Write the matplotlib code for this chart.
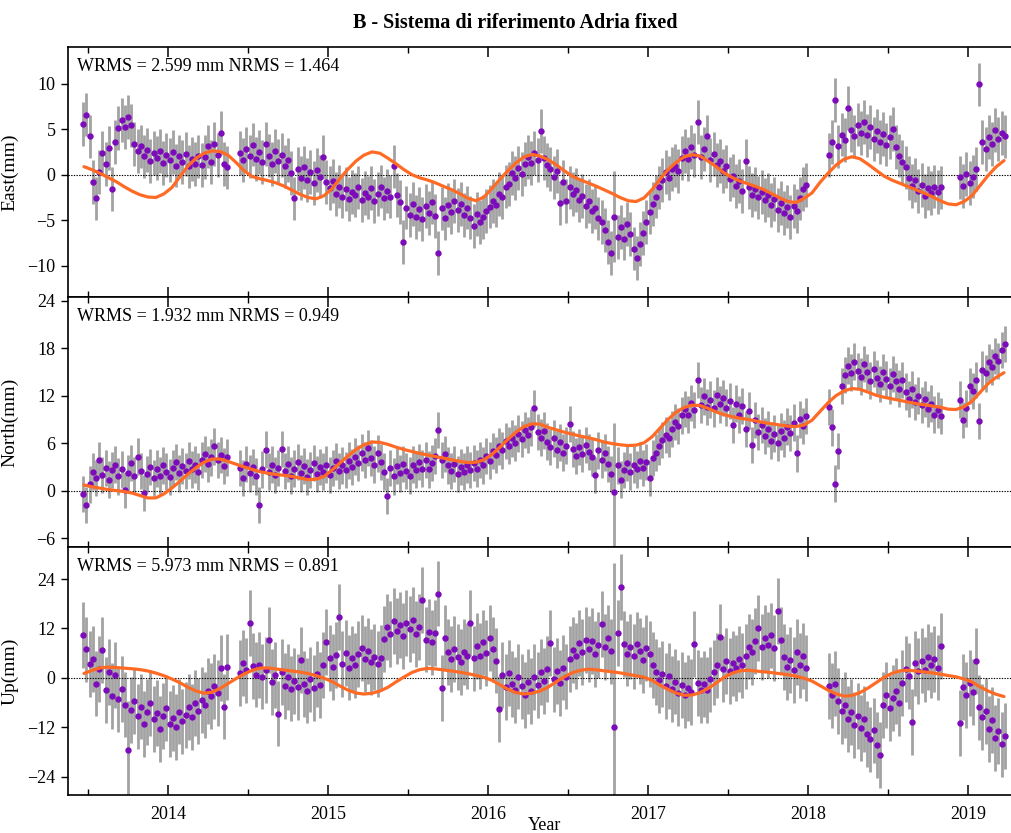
import numpy as np
import matplotlib.pyplot as plt

plt.rcParams['font.family'] = ['Liberation Serif', 'DejaVu Serif']

# weekly solutions in four continuous stretches (decimal year of first epoch)
seg_start = [2013.47, 2014.45, 2018.13, 2018.95]
seg_step = 0.02

east_a = [5.6, 6.6, 4.2, -0.8, -2.6, 0.3, 2.4, 1.2, 2.9, -1.6,
          3.6, 5.1, 6.0, 5.2, 6.3, 5.4, 3.4, 2.6, 3.1, 2.0,
          2.7, 1.5, 2.4, 1.8, 2.6, 1.3, 2.2, 1.6, 2.5, 1.0,
          2.0, 1.4, 2.3, 0.9, 1.7, 1.2, 2.0, 1.1, 1.9, 3.1,
          1.4, 3.4, 2.2, 4.6, 1.2, 0.8]
east_b = [2.4, 1.6, 2.8, 2.0, 3.3, 1.7, 2.5, 1.4, 3.4, 2.1,
          1.2, 2.6, 1.5, 2.2, 0.9, 1.6, 0.2, -2.6, 0.6, -0.4,
          0.8, -0.6, 0.3, -0.9, 0.5, -0.2, 1.9, -0.8, -1.5, -0.7,
          -2.1, -1.3, -2.4, -1.6, -2.7, -1.9, -2.2, -1.4, -2.8, -2.0,
          -2.5, -1.5, -2.9, -2.1, -1.3, -2.6, -1.8, -2.4, 0.9, -2.2,
          -3.0, -7.4, -3.6, -4.4, -3.2, -4.6, -3.8, -4.9, -3.4, -4.2,
          -3.0, -4.5, -8.6, -3.7, -4.8, -3.3, -4.1, -2.9, -3.9, -3.2,
          -4.4, -3.6, -4.7, -5.6, -4.3, -5.2, -4.6, -4.0, -3.5, -2.9,
          -3.3, -2.1, -2.5, -1.3, -1.0, 0.2, -0.4, 0.7, 0.1, 1.2,
          1.9, 1.3, 2.4, 1.6, 4.8, 1.8, 1.1, 0.6, -0.3, 0.4,
          -3.1, -0.8, -2.9, -1.4, -2.1, -1.7, -2.8, -2.3, -3.4, -2.9,
          -4.0, -3.6, -4.8, -5.2, -6.1, -7.4, -8.6, -4.6, -6.8, -5.7,
          -7.0, -5.4, -6.5, -8.1, -9.1, -7.6, -6.4, -5.2, -4.1, -3.2,
          -2.4, -1.4, -0.6, 0.3, -0.4, 0.6, 1.0, 0.4, 1.8, 2.6,
          1.7, 3.0, 2.2, 5.8, 1.9, 2.8, 4.2, 1.6, 2.3, 1.1,
          1.5, 0.4, 0.9, -0.5, -0.1, -1.2, -0.7, -1.8, 1.5, -1.4,
          -2.2, -1.6, -2.5, -1.9, -2.8, -2.2, -3.3, -2.7, -3.9, -3.1,
          -4.2, -3.5, -4.6, -3.4, -4.0, -2.6, -1.6, -1.1]
east_d = [2.2, 3.6, 8.2, 3.1, 4.4, 3.8, 7.3, 4.9, 4.2, 5.5,
          4.6, 5.8, 4.3, 5.2, 3.9, 4.8, 3.6, 4.5, 3.3, 4.1,
          5.0, 3.0, 2.1, 1.4, 0.8, -0.4, -1.2, -0.6, -1.8, -1.1,
          -2.3, -1.5, -2.0, -1.3, -1.9, -1.4]
east_e = [-0.3, -1.2, 0.1, -0.9, -0.2, 0.6, 9.9, 3.6, 2.8, 4.1,
          3.4, 4.9, 3.9, 4.6, 4.2]

north_a = [-0.4, -1.8, 0.8, 2.4, 1.6, 3.9, 2.0, 2.9, 1.4, 2.6,
           3.3, 1.8, 2.7, 0.1, 2.2, 3.5, 1.9, 4.3, 2.5, -0.3,
           2.1, 3.0, 1.6, 2.8, 1.9, 3.2, 2.4, 1.7, 2.9, 3.6,
           2.2, 3.1, 2.5, 3.8, 2.7, 3.3, 2.4, 3.9, 4.6, 3.4,
           4.2, 5.6, 3.9, 4.5, 3.1, 4.2]
north_b = [2.9, 1.6, 3.4, 2.2, 3.0, 1.8, -1.8, 2.7, 5.2, 2.4,
           3.3, 2.0, 2.9, 5.3, 2.5, 3.4, 1.9, 2.8, 3.6, 2.2,
           3.1, 1.7, 2.6, 3.5, 2.1, 3.0, 2.4, 3.3, 2.0, 2.9,
           3.7, 2.5, 3.2, 2.6, 3.8, 3.0, 4.3, 3.5, 4.8, 3.9,
           5.4, 4.1, 3.3, 4.7, 3.6, 2.4, -0.7, 2.9, 1.8, 3.1,
           2.2, 3.4, 2.5, 1.9, 3.3, 2.6, 3.6, 2.8, 3.9, 2.7,
           3.5, 4.4, 7.7, 3.9, 4.6, 3.2, 2.5, 3.4, 2.1, 3.0,
           2.4, 3.3, 2.6, 3.5, 2.8, 3.9, 3.2, 4.4, 3.8, 5.0,
           4.5, 5.6, 5.1, 6.3, 5.7, 6.6, 6.0, 7.2, 6.5, 7.7,
           7.0, 8.0, 10.4, 7.4, 6.7, 7.6, 6.2, 5.5, 6.6, 5.2,
           6.1, 4.8, 5.7, 8.4, 5.3, 4.4, 5.5, 4.6, 5.8, 4.9,
           4.2, 2.0, 5.1, 3.9, 4.8, 3.4, 2.1, -0.1, 3.2, 1.4,
           2.6, 3.5, 2.4, 3.3, 2.7, 3.8, 2.9, 3.6, 1.6, 4.1,
           4.8, 5.6, 6.4, 7.0, 6.6, 7.8, 8.7, 8.2, 9.5, 10.3,
           9.6, 11.1, 10.2, 14.0, 10.8, 11.9, 10.6, 11.5, 10.4, 12.1,
           10.9, 11.7, 10.5, 11.3, 8.3, 11.0, 9.6, 10.7, 7.8, 10.1,
           5.8, 8.9, 7.4, 8.3, 6.9, 7.8, 6.3, 7.2, 6.0, 7.5,
           6.6, 8.1, 7.3, 8.6, 4.7, 9.0, 8.2, 9.4]
north_d = [10.6, 8.0, 0.9, 5.0, 13.2, 14.6, 15.8, 14.9, 16.3, 15.1,
           14.4, 16.0, 15.0, 13.9, 15.4, 14.2, 13.5, 15.0, 14.1, 13.2,
           14.7, 13.8, 12.9, 14.0, 12.5, 11.6, 12.8, 11.2, 12.0, 10.8,
           11.6, 10.3, 11.0, 9.6, 10.2, 9.4]
north_e = [11.5, 8.9, 10.4, 13.2, 12.6, 14.0, 8.8, 15.3, 14.8, 16.2,
           15.6, 17.0, 16.4, 17.8, 18.5]

up_a = [10.5, 6.9, 3.4, 4.6, -1.4, 2.1, 6.8, -3.0, 1.5, -4.4,
        0.7, -5.2, -2.8, -6.5, -17.6, -7.8, -5.6, -9.4, -7.0, -11.2,
        -8.3, -6.1, -10.1, -8.6, -12.4, -9.3, -7.4, -11.3, -9.8, -12.0,
        -8.2, -10.6, -9.0, -7.1, -9.5, -6.2, -8.0, -5.4, -6.6, -3.2,
        -4.5, -2.1, -3.6, 2.3, -7.0, 2.7]
up_b = [1.2, 3.6, 1.8, 13.4, 2.9, 0.8, 3.2, 0.3, 1.9, 9.2,
        -1.1, 0.6, -8.7, 1.4, -1.9, 0.2, -2.6, -0.7, -2.2, 4.3,
        -1.5, -3.1, -0.4, -2.4, 0.9, -1.8, 3.1, 8.8, 4.9, 2.7,
        5.6, 14.8, 3.4, 6.1, 2.5, 4.7, 3.0, 5.8, 7.2, 4.6,
        6.5, 3.8, 5.1, 3.3, 4.8, 9.5, 12.3, 10.6, 13.8, 11.4,
        12.9, 10.2, 13.3, 11.8, 14.1, 10.7, 12.4, 19.0, 9.3, 11.2,
        8.6, 10.9, 20.5, -2.5, 9.8, 6.3, 4.6, 7.1, 5.0, 3.8,
        6.2, 5.3, 13.4, 4.7, 7.8, 5.4, 8.6, 6.0, 9.7, 6.9,
        4.2, -7.5, 0.6, -2.3, 1.2, -1.6, -3.0, 0.3, -2.1, -4.1,
        -0.9, -3.3, 0.1, -1.7, 1.4, -0.8, 2.2, 8.4, -0.4, 1.6,
        -1.3, 2.5, 0.3, 4.6, 6.8, 5.3, 8.5, 6.2, 9.1, 7.0,
        8.9, 5.7, 8.0, 13.0, 7.4, 9.6, 6.4, -12.0, 10.8, 22.1,
        8.3, 5.9, 7.6, 5.2, 8.1, 6.5, 4.4, 7.3, 5.8, 3.1,
        1.5, -0.6, 1.0, -1.9, 0.4, -2.7, -0.9, -3.6, -1.8, -4.2,
        -2.4, -3.4, 8.2, -1.2, -3.0, -1.5, -2.9, -0.4, 1.3, 3.0,
        10.0, 2.1, 4.0, 1.7, 3.5, 2.4, 4.6, 3.0, 5.2, 7.6,
        6.3, 8.9, 12.2, 7.5, 9.6, 8.0, 10.3, 7.2, 16.3, 9.1,
        5.0, 2.6, 4.3, 1.9, 6.2, 3.0, 5.3, 2.4]
up_d = [-2.0, -4.3, -1.4, -5.6, -8.0, -6.7, -10.1, -8.4, -11.5, -9.2,
        -12.3, -10.0, -13.6, -15.0, -12.8, -16.4, -18.8, -6.6, -4.1, -7.3,
        -5.0, -3.2, -6.2, -1.3, 2.2, 0.4, -10.7, 3.5, 1.6, 4.2,
        2.0, 5.0, 3.1, 4.6, 2.5, 7.7]
up_e = [-11.0, -2.2, -4.1, -1.3, -3.5, 4.0, -7.2, -9.6, -8.1, -12.4,
        -10.3, -14.6, -13.0, -16.2, -14.1]

# formal errors (mm); a few epochs carry much larger ones
east_sig, north_sig, up_sig = 2.4, 2.3, 8.0
big_err_epoch = [2013.75, 2016.79]
big_err_east = [2.4, 5.0]
big_err_north = [2.3, 8.6]
big_err_up = [12.0, 40.0]

# fitted model (trend + seasonal), sampled every 0.05 yr
model_start = 2013.475
model_step = 0.05
east_model = [0.88, 0.55, 0.15, -0.3, -0.75, -1.3, -1.8, -2.2, -2.45, -2.5, -2.1,
              -1.4, -0.2, 0.95, 1.8, 2.35, 2.6, 2.55, 2.15, 1.35, 0.45,
              -0.2, -0.45, -0.65, -0.9, -1.25, -1.7, -2.15, -2.5, -2.65, -2.3,
              -1.55, -0.4, 0.6, 1.5, 2.15, 2.5, 2.35, 1.8, 1.2, 0.55,
              0.0, -0.35, -0.6, -0.92, -1.3, -1.65, -2.1, -2.6, -2.85, -2.45,
              -1.5, -0.5, 0.45, 1.3, 1.95, 2.22, 2.05, 1.65, 1.1, 0.45,
              -0.15, -0.55, -0.9, -1.25, -1.65, -2.05, -2.5, -2.85, -2.95, -2.55,
              -1.65, -0.5, 0.55, 1.35, 1.95, 2.2, 2.05, 1.5, 0.9, 0.2,
              -0.3, -0.7, -1.0, -1.3, -1.65, -2.1, -2.55, -2.95, -3.05, -2.6,
              -2.0, -0.85, 0.15, 1.05, 1.7, 1.97, 1.75, 1.15, 0.5, -0.15,
              -0.6, -0.95, -1.3, -1.65, -2.0, -2.4, -2.85, -3.2, -3.3, -2.95,
              -2.3, -1.2, -0.1, 0.85, 1.55]
north_model = [0.72, 0.5, 0.32, 0.15, 0.02, -0.1, -0.3, -0.6, -0.92, -0.9, -0.4,
               0.35, 1.2, 2.1, 2.9, 3.6, 4.0, 4.0, 3.7, 3.35, 3.0,
               2.7, 2.4, 2.2, 2.05, 1.95, 1.8, 1.6, 1.4, 1.45, 1.8,
               2.6, 3.5, 4.4, 5.2, 5.8, 6.15, 6.1, 5.85, 5.5, 5.2,
               4.95, 4.7, 4.5, 4.3, 4.1, 3.9, 3.7, 3.55, 3.6, 3.9,
               4.6, 5.5, 6.5, 7.4, 8.1, 8.45, 8.4, 8.0, 7.7, 7.4,
               7.15, 6.9, 6.7, 6.45, 6.15, 5.95, 5.8, 5.7, 5.75, 6.05,
               6.8, 7.9, 9.0, 9.9, 10.5, 10.8, 10.75, 10.4, 9.95, 9.6,
               9.35, 9.15, 9.0, 8.8, 8.6, 8.45, 8.3, 8.15, 8.1, 8.3,
               8.9, 10.0, 11.1, 12.0, 12.6, 12.9, 12.8, 12.45, 12.05, 11.8,
               11.6, 11.4, 11.2, 11.0, 10.85, 10.7, 10.55, 10.3, 10.25, 10.6,
               11.3, 12.4, 13.5, 14.3, 14.9]
up_model = [1.05, 1.8, 2.4, 2.6, 2.5, 2.35, 2.2, 2.0, 1.65, 1.15, 0.5,
            -0.3, -1.2, -2.3, -3.2, -3.75, -3.5, -2.6, -1.4, -0.2, 0.9,
            1.8, 2.35, 2.4, 2.15, 1.9, 1.65, 1.4, 1.05, 0.55, -0.1,
            -0.9, -2.0, -3.0, -3.7, -3.95, -3.75, -3.2, -2.3, -1.0, 0.2,
            1.3, 2.0, 2.3, 2.15, 1.9, 1.65, 1.35, 1.0, 0.6, 0.1,
            -0.6, -1.7, -2.8, -3.6, -3.95, -3.75, -3.2, -2.3, -1.0, 0.2,
            1.2, 1.8, 2.1, 1.95, 1.7, 1.45, 1.2, 0.85, 0.5, 0.15,
            -0.6, -1.8, -2.8, -3.7, -4.25, -4.2, -3.6, -2.6, -1.3, 0.1,
            1.1, 1.7, 1.85, 1.65, 1.45, 1.25, 1.0, 0.75, 0.4, -0.1,
            -0.8, -1.9, -3.0, -3.9, -4.45, -4.3, -3.6, -2.5, -1.2, 0.1,
            1.1, 1.7, 1.85, 1.65, 1.45, 1.2, 0.9, 0.55, 0.25, -0.3,
            -1.0, -2.2, -3.2, -4.0, -4.55]

stats = ['WRMS = 2.599 mm NRMS = 1.464',
         'WRMS = 1.932 mm NRMS = 0.949',
         'WRMS = 5.973 mm NRMS = 0.891']
ylabels = ['East(mm)', 'North(mm)', 'Up(mm)']


def epochs(segs):
    return np.concatenate([s + seg_step * np.arange(len(v))
                           for s, v in zip(seg_start, segs)])


t_obs = epochs([east_a, east_b, east_d, east_e])
t_model = model_start + model_step * np.arange(len(east_model))


def sigmas(base, big):
    s = np.full(len(t_obs), base)
    for ep, val in zip(big_err_epoch, big):
        s[np.isclose(t_obs, ep, rtol=0, atol=1e-6)] = val
    return s


series = [
    (np.concatenate([east_a, east_b, east_d, east_e]), sigmas(east_sig, big_err_east), east_model,
     (-13.41, 13.97), [-10, -5, 0, 5, 10]),
    (np.concatenate([north_a, north_b, north_d, north_e]), sigmas(north_sig, big_err_north), north_model,
     (-7.11, 24.46), [-6, 0, 6, 12, 18, 24]),
    (np.concatenate([up_a, up_b, up_d, up_e]), sigmas(up_sig, big_err_up), up_model,
     (-28.5, 31.8), [-24, -12, 0, 12, 24]),
]

fig = plt.figure(figsize=(10.12, 8.33), dpi=100)
left, right = 0.0667, 1.0
rows = [(0.6435, 0.9432), (0.3433, 0.6435), (0.0456, 0.3433)]

for i, ((vals, sig, model, ylim, yt), (b, t)) in enumerate(zip(series, rows)):
    ax = fig.add_axes([left, b, right - left, t - b])
    ax.errorbar(t_obs, vals, yerr=sig, fmt='none', ecolor='#a2a2a2',
                elinewidth=2.0, zorder=1)
    ax.axhline(0, color='black', ls=(0, (1.2, 1.2)), lw=0.8, zorder=2)
    ax.plot(t_obs, vals, 'o', ms=4.6, color='#7c0cba', mec='none', zorder=3)
    ax.plot(t_model, model, color='#ff6a25', lw=2.3, zorder=4,
            solid_capstyle='round')

    ax.set_xlim(2013.372, 2019.275)
    ax.set_ylim(*ylim)
    ax.set_yticks(yt)
    ax.set_xticks(range(2014, 2020))
    ax.set_xticks(np.arange(2013.5, 2019.3, 1.0), minor=True)
    for s in ax.spines.values():
        s.set_linewidth(1.2)
    ax.tick_params(axis='x', which='major', direction='in', top=True,
                   length=7, width=1.1, labelsize=13, pad=8)
    ax.tick_params(axis='x', which='minor', direction='in', top=True,
                   length=4, width=1.0)
    ax.tick_params(axis='y', which='major', direction='out', left=True,
                   length=5, width=1.0, labelsize=13)
    ax.tick_params(axis='y', which='major', right=True)
    if i < 2:
        ax.tick_params(axis='x', labelbottom=False)
    ax.set_ylabel(ylabels[i], fontsize=14)
    ax.yaxis.set_label_coords(-0.052, 0.5)
    ax.text(0.010, 0.922, stats[i], transform=ax.transAxes, fontsize=13,
            va='center', ha='left', zorder=5)

fig.text(515 / 1012, 1 - 23 / 833, 'B - Sistema di riferimento Adria fixed',
         ha='center', va='center', fontsize=14.5, fontweight='bold')
fig.text(545 / 1012, 1 - 825 / 833, 'Year', ha='center', va='center',
         fontsize=13)

fig.savefig('out.png', dpi=100)
